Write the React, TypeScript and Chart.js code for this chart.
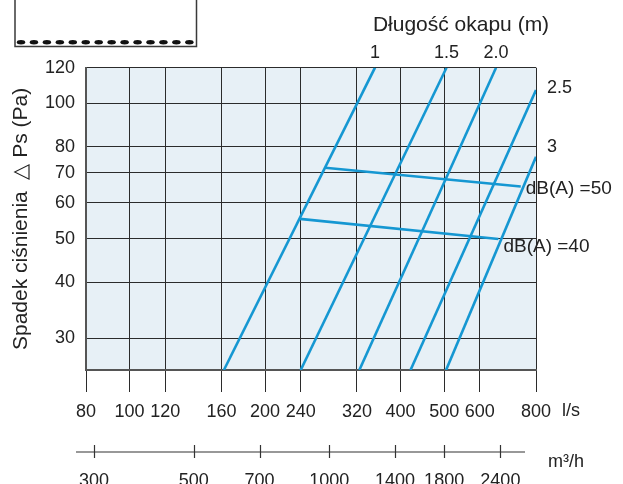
import React, { useEffect, useRef } from 'react';
import { Chart, registerables } from 'chart.js';

Chart.register(...registerables);

// ---------- data ----------
const FLOW_TICKS = [80, 100, 120, 160, 200, 240, 320, 400, 500, 600, 800]; // l/s
const FLOW_M3H_TICKS = [300, 500, 700, 1000, 1400, 1800, 2400]; // m3/h
const PRESSURE_TICKS = [30, 40, 50, 60, 70, 80, 100, 120]; // Pa

const HOOD_LENGTHS = ['1', '1.5', '2.0', '2.5', '3'];
const HOOD_START_FLOW = [162, 240, 324, 421, 505];
const HOOD_START_P = [25.5, 25.5, 25.5, 25.5, 25.5];
const HOOD_END_FLOW = [351, 506, 652, 800, 800];
const HOOD_END_P = [120, 120, 120, 107, 76];

const DB_LABELS = ['dB(A) =50', 'dB(A) =40'];
const DB_START_FLOW = [272, 239];
const DB_START_P = [71.9, 55.3];
const DB_END_FLOW = [740, 660];
const DB_END_P = [65.3, 49.9];

const X_UNIT = 'l/s';
const X2_UNIT = 'm³/h';
const TOP_TITLE = 'Długość okapu (m)';
const Y_TITLE = 'Spadek ciśnienia  △ Ps (Pa)';

// ---------- style ----------
const FONT = '"Liberation Sans", Arial, Helvetica, sans-serif';
const BLUE = '#1597d2';
const GRID = '#2b2b2b';
const BORDER = '#555555';
const TEXT = '#222222';
const PLOT_BG = '#e7f0f6';

const overlayPlugin = {
  id: 'overlay',
  beforeDraw(chart: any) {
    const { ctx, chartArea: a } = chart;
    ctx.save();
    ctx.fillStyle = PLOT_BG;
    ctx.fillRect(a.left, a.top, a.right - a.left, a.bottom - a.top);
    ctx.restore();
  },
  afterDraw(chart: any) {
    const { ctx, chartArea: a, scales } = chart;
    const xs = scales.x;
    const ys = scales.y;
    const x2 = scales.x2;
    ctx.save();

    // hood pictogram
    ctx.strokeStyle = '#3a3a3a';
    ctx.lineWidth = 1.5;
    ctx.beginPath();
    ctx.moveTo(15, 0);
    ctx.lineTo(15, 46.5);
    ctx.lineTo(196.5, 46.5);
    ctx.lineTo(196.5, 0);
    ctx.stroke();
    ctx.fillStyle = '#111111';
    for (let i = 0; i < 14; i++) {
      ctx.beginPath();
      ctx.ellipse(21 + i * 12.95, 42.3, 4.2, 2.2, 0, 0, Math.PI * 2);
      ctx.fill();
    }

    ctx.fillStyle = TEXT;
    ctx.textBaseline = 'middle';

    // top title
    ctx.font = `21px ${FONT}`;
    ctx.textAlign = 'center';
    ctx.fillText(TOP_TITLE, a.right - 75, 25);

    // hood length labels
    ctx.font = `18px ${FONT}`;
    const edgeDy = [-2, -10];
    let edgeIdx = 0;
    HOOD_LENGTHS.forEach((lab, i) => {
      const ex = xs.getPixelForValue(HOOD_END_FLOW[i]);
      const ey = ys.getPixelForValue(HOOD_END_P[i]);
      if (ey <= a.top + 1) {
        ctx.textAlign = 'center';
        ctx.fillText(lab, ex, a.top - 14.5);
      } else {
        ctx.textAlign = 'left';
        ctx.fillText(lab, a.right + 11, ey + edgeDy[edgeIdx++]);
      }
    });

    // dB labels
    const dbDy = [2.5, 8];
    ctx.font = `19px ${FONT}`;
    ctx.textAlign = 'left';
    DB_LABELS.forEach((lab, i) => {
      const ex = xs.getPixelForValue(DB_END_FLOW[i]);
      const ey = ys.getPixelForValue(DB_END_P[i]);
      ctx.fillText(lab, ex + 5, ey + dbDy[i]);
    });

    // unit labels
    ctx.font = `18px ${FONT}`;
    ctx.textAlign = 'left';
    ctx.fillText(X_UNIT, a.right + 26, a.bottom + 41.5);
    ctx.fillText(X2_UNIT, a.right + 12, 462);

    // secondary axis line with crossing ticks
    const lineY = x2.top + 20;
    ctx.strokeStyle = '#333333';
    ctx.lineWidth = 1.2;
    ctx.beginPath();
    ctx.moveTo(a.left - 10, lineY);
    ctx.lineTo(a.right - 11, lineY);
    FLOW_M3H_TICKS.forEach((t) => {
      const px = Math.round(x2.getPixelForValue(t)) + 0.5;
      ctx.moveTo(px, lineY - 7);
      ctx.lineTo(px, lineY + 6);
    });
    ctx.stroke();

    ctx.restore();
  },
};

export default function App() {
  const ref = useRef<HTMLCanvasElement>(null);

  useEffect(() => {
    const canvas = ref.current;
    if (!canvas) return;

    const lineStyle = {
      borderColor: BLUE,
      backgroundColor: BLUE,
      borderWidth: 2.6,
      pointRadius: 0,
      pointHoverRadius: 0,
      tension: 0,
      fill: false,
    };

    const datasets: any[] = [
      ...HOOD_LENGTHS.map((l, i) => ({
        label: `L = ${l} m`,
        data: [
          { x: HOOD_START_FLOW[i], y: HOOD_START_P[i] },
          { x: HOOD_END_FLOW[i], y: HOOD_END_P[i] },
        ],
        ...lineStyle,
      })),
      ...DB_LABELS.map((l, i) => ({
        label: l,
        data: [
          { x: DB_START_FLOW[i], y: DB_START_P[i] },
          { x: DB_END_FLOW[i], y: DB_END_P[i] },
        ],
        ...lineStyle,
      })),
    ];

    const tickFont = { family: FONT, size: 18 };

    const chart = new Chart(canvas, {
      type: 'line',
      data: { datasets },
      options: {
        animation: false,
        responsive: false,
        devicePixelRatio: 1,
        layout: { padding: { left: 0, right: 87, top: 67.7, bottom: 0 } },
        plugins: { legend: { display: false }, tooltip: { enabled: false }, title: { display: false } },
        scales: {
          x: {
            type: 'logarithmic',
            position: 'bottom',
            weight: 0,
            min: 80,
            max: 800,
            afterBuildTicks: (s: any) => {
              s.ticks = FLOW_TICKS.map((v) => ({ value: v }));
            },
            afterFit: (s: any) => {
              s.height = 62;
            },
            ticks: {
              autoSkip: false,
              maxRotation: 0,
              minRotation: 0,
              padding: 9,
              color: TEXT,
              font: tickFont,
              callback: (v: any) => String(v),
            },
            grid: { color: GRID, lineWidth: 1, drawTicks: true, tickLength: 22, tickColor: GRID },
            border: { display: true, color: BORDER, width: 2 },
          },
          x2: {
            type: 'logarithmic',
            position: 'bottom',
            weight: 1,
            min: 288,
            max: 2880,
            afterBuildTicks: (s: any) => {
              s.ticks = FLOW_M3H_TICKS.map((v) => ({ value: v }));
            },
            afterFit: (s: any) => {
              s.height = 52;
            },
            ticks: {
              autoSkip: false,
              maxRotation: 0,
              minRotation: 0,
              padding: 38,
              color: TEXT,
              font: tickFont,
              callback: (v: any) => String(v),
            },
            grid: { display: false, drawTicks: false },
            border: { display: false },
          },
          y: {
            type: 'logarithmic',
            position: 'left',
            min: 25.5,
            max: 120,
            afterBuildTicks: (s: any) => {
              s.ticks = PRESSURE_TICKS.map((v) => ({ value: v }));
            },
            afterFit: (s: any) => {
              s.width = 86;
            },
            ticks: {
              autoSkip: false,
              padding: 11,
              color: TEXT,
              font: tickFont,
              callback: (v: any) => String(v),
            },
            grid: { color: GRID, lineWidth: 1, drawTicks: false },
            border: { display: true, color: BORDER, width: 2 },
            title: {
              display: true,
              text: Y_TITLE,
              color: TEXT,
              font: { family: FONT, size: 21, lineHeight: 1.2 },
              padding: { top: 9, bottom: 0 },
            },
          },
        },
      } as any,
      plugins: [overlayPlugin],
    });

    return () => chart.destroy();
  }, []);

  return (
    <div style={{ position: 'fixed', left: 0, top: 0, width: 623, height: 484, background: '#ffffff' }}>
      <canvas ref={ref} width={623} height={484} style={{ display: 'block', width: 623, height: 484 }} />
    </div>
  );
}
